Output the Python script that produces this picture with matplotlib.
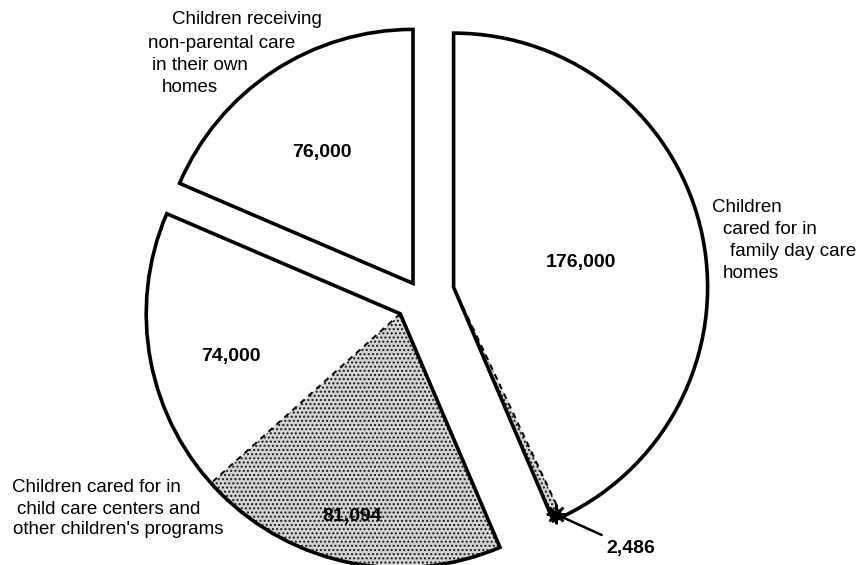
import numpy as np
import matplotlib.pyplot as plt

plt.rcParams['font.family'] = ['Liberation Sans', 'DejaVu Sans']

# values, clockwise from the top of the pie
family_values = [176000, 2486]      # family day care homes (plain, shaded)
center_values = [81094, 74000]      # child care centers (shaded, plain)
own_values = [76000]                # own homes

family_label = ["Children", "cared for in", "family day care", "homes"]
center_label = ["Children cared for in", "child care centers and", "other children's programs"]
own_label = ["Children receiving", "non-parental care", "in their own", "homes"]

total = sum(family_values) + sum(center_values) + sum(own_values)

fig = plt.figure(figsize=(8.66, 5.65), dpi=100)
ax = fig.add_axes([0, 0, 1, 1])

R = 254
cx, cy = 420, 271
dot = '....'

groups = [
    (family_values, [False, True], 0.135),
    (center_values, [True, False], 0.11),
    (own_values, [False], 0.05),
]

cum = 0
apexes = []
for values, shaded, explode in groups:
    fracs = [v / total for v in values]
    start = 90 - 360 * cum
    mid = np.radians(start - 180 * sum(fracs))
    gx = cx + explode * R * np.cos(mid)
    gy = cy + explode * R * np.sin(mid)
    apexes.append((gx, gy, start, fracs))

    # fills
    wedges, _ = ax.pie(fracs, normalize=False, startangle=start, counterclock=False,
                       center=(gx, gy), radius=R, colors=['white'] * len(fracs))
    for w, s in zip(wedges, shaded):
        w.set_linewidth(0)
        if s:
            w.set_facecolor('#d4d4d4')
            w.set_edgecolor('#1a1a1a')
            w.set_hatch(dot)
        else:
            w.set_edgecolor('white')

    # dashed boundary inside a group
    if len(fracs) > 1:
        a = np.radians(start - 360 * fracs[0])
        ax.plot([gx, gx + R * 0.99 * np.cos(a)], [gy, gy + R * 0.99 * np.sin(a)],
                color='black', lw=1.4, ls=(0, (3, 2.5)))

    # solid outline of the whole group
    ax.pie([sum(fracs)], normalize=False, startangle=start, counterclock=False,
           center=(gx, gy), radius=R, colors=['none'],
           wedgeprops=dict(edgecolor='black', linewidth=2.6, joinstyle='miter'))

    cum += sum(fracs)

num_kw = dict(fontsize=14, fontweight='bold', ha='center', va='center')
ax.text(322, 565 - 152, f"{own_values[0]:,}", **num_kw)
ax.text(581, 565 - 263, f"{family_values[0]:,}", **num_kw)
ax.text(231, 565 - 357, f"{center_values[1]:,}", **num_kw)
ax.text(352, 565 - 517, f"{center_values[0]:,}", **num_kw)

# arrow to the thin shaded slice
gx, gy, start, fracs = apexes[0]
a = np.radians(start - 360 * (fracs[0] + fracs[1] / 2))
tip = (gx + R * 0.98 * np.cos(a), gy + R * 0.98 * np.sin(a))
ax.annotate(f"{family_values[1]:,}", xy=tip, xytext=(606, 565 - 548),
            fontsize=14, fontweight='bold', ha='left', va='center',
            arrowprops=dict(arrowstyle='-', color='black', lw=1.8, shrinkA=3, shrinkB=0))
ax.plot(tip[0], tip[1], marker=(8, 2, 0), ms=14, mew=1.8, color='black')

lab_kw = dict(fontsize=13.5, ha='left', va='center')
for txt, x, y in zip(own_label, [172, 148, 152, 162], [20, 43, 66, 88]):
    ax.text(x, 565 - y, txt, **lab_kw)
for txt, x, y in zip(family_label, [712, 723, 730, 723], [208, 230, 251, 273]):
    ax.text(x, 565 - y, txt, **lab_kw)
for txt, x, y in zip(center_label, [12, 17, 13], [488, 509, 530]):
    ax.text(x, 565 - y, txt, **lab_kw)

ax.set_xlim(0, 866)
ax.set_ylim(0, 565)
ax.set_aspect('equal')
ax.axis('off')

fig.savefig('out.png', dpi=100)
